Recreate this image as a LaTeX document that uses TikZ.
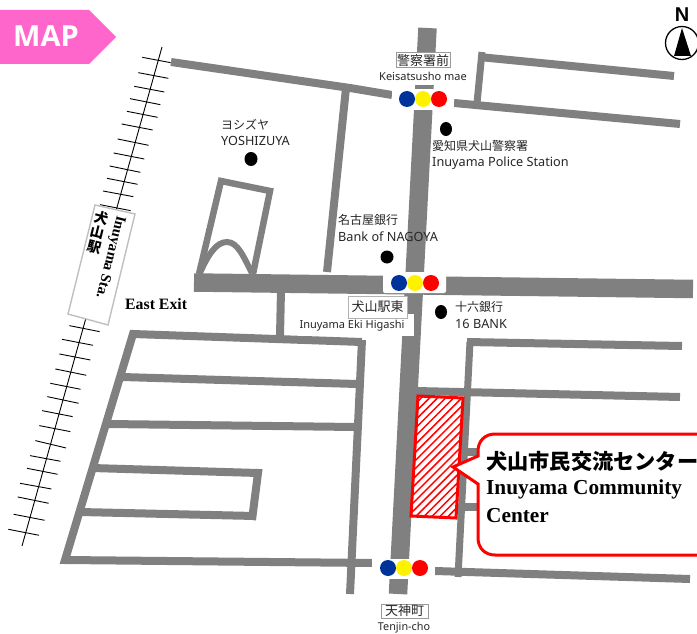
\documentclass[tikz,border=0pt]{standalone}
\usepackage{fontspec}
\usetikzlibrary{patterns.meta}
\setmainfont{Liberation Serif}
\setsansfont{Noto Sans}
\newfontfamily\cjk{Noto Sans CJK JP}
\newfontfamily\tagsans{Open Sans}
\newfontfamily\nsans{Liberation Sans}
\definecolor{road}{HTML}{808080}
\definecolor{pinktag}{HTML}{FF66CC}
\definecolor{sigblue}{HTML}{003399}
\newcommand{\fsz}[1]{\fontsize{#1}{#1}\selectfont}
\tikzset{
  roadline/.style={draw=road,line width=8pt},
  wideroad/.style={draw=road,line width=18.5pt},
  gap/.style={fill=white,draw=none},
  lab/.style={anchor=west,inner sep=0pt,text=black!85,font=\sffamily\fsz{12.7}},
  jlab/.style={anchor=west,inner sep=0pt,text=black!85,font=\cjk\fsz{12}},
  clab/.style={anchor=center,inner sep=0pt,text=black!85,font=\sffamily\fsz{11}},
  stn/.style={anchor=center,draw=black!40,fill=white,line width=1pt,inner sep=0pt,font=\cjk\fsz{13},text=black!85},
  dotmark/.style={fill=black,draw=none},
  tie/.style={draw=black,line width=0.9pt},
  bigb/.style={anchor=west,inner sep=0pt,font=\bfseries\fsz{21.3}}
}
\begin{document}
\begin{tikzpicture}[x=1pt,y=-1pt]
\clip (0,0) rectangle (697,634);
% railway
\draw[tie] (162,47) -- (22,546);
\begin{scope}[x=0.3333pt,y=-0.3333pt]
\foreach \a/\b/\c/\d in {427/172/512/188,415/218/505/235,403/259/493/276,390/296/481/314,381/334/473/352,365/372/458/390,353/417/446/436,341/459/433/477,329/498/421/517,321/535/413/553,309/573/400/590,300/614/392/632}
  \draw[tie] (\a,\b) -- (\c,\d);
\foreach \a/\b/\c/\d in {208/35/299/53,186/76/279/94,178/120/271/138,166/165/259/184,151/208/242/226,142/248/236/268,126/290/218/308,118/335/211/353,106/380/198/402,90/425/182/442,81/463/173/481,60/508/154/525,53/549/146/568,41/601/134/619,25/646/117/664}
  \draw[tie] (\a,\b+942) -- (\c,\d+942);
\end{scope}
% station
\draw[draw=black!25,fill=white,line width=1.4pt] (95,205) -- (135,214) -- (108,325) -- (68,314) -- cycle;
\node[inner sep=0pt,rotate=-14,font=\cjk\bfseries\fsz{14}] (s1) at (102,218) {犬};
\node[inner sep=0pt,rotate=-14,font=\cjk\bfseries\fsz{14}] (s2) at (98,232) {山};
\node[inner sep=0pt,rotate=-14,font=\cjk\bfseries\fsz{14}] (s3) at (95,247) {駅};
\node[inner sep=0pt,rotate=-104,font=\bfseries\fsz{14.8}] (s4) at (110,257) {Inuyama Sta.};
\node[anchor=west,inner sep=0pt,font=\bfseries\fsz{15.8}] (ee) at (125,304) {East Exit};
% roads
\draw[roadline] (171,62) -- (350,88) -- (392,95);
\draw[roadline] (454,103) -- (680,124);
\draw[roadline] (346,88) -- (327,272);
\draw[roadline,line width=7pt] (482,52) -- (477,103);
\draw[roadline] (479,57) -- (674,76);
\draw[draw=road,line width=6.5pt,line join=miter] (199,274) -- (221,181) -- (270,191) -- (253,274);
\draw[draw=road,line width=6pt] (200,273) .. controls (208,255) and (216,242) .. (227,242) .. controls (238,242) and (244,258) .. (252,273);
\draw[roadline] (281,290) -- (280,336);
\draw[roadline,line join=miter] (362,342) -- (133,334) -- (65,560) -- (372,563);
\draw[roadline] (122,377) -- (357,384);
\draw[roadline] (108,424) -- (355,427);
\draw[roadline,line join=miter] (92,468) -- (258,473) -- (252,520);
\draw[roadline] (80,512) -- (255,516);
\draw[roadline] (362,340) -- (350,594);
\draw[roadline] (435,571) -- (690,579);
\draw[roadline,line width=7pt] (470,342) -- (458,577);
\draw[roadline] (467,342) -- (682,346);
\draw[roadline] (416,391) -- (680,397);
\draw[roadline] (460,452) -- (500,452);
\draw[roadline] (460,507) -- (500,507);
\draw[wideroad] (427.5,28) -- (398,594);
\draw[wideroad] (194,282.5) -- (693,289);
% white gaps
\fill[gap] (384,68) rectangle (462,85);
\fill[gap] (392,89) rectangle (454,110);
\fill[gap,rounded corners=2pt] (383,272) rectangle (446,293);
\fill[gap] (372,559) rectangle (435,579);
\fill[gap] (298,314) rectangle (414,336);
% centre
\fill[white] (418,396) -- (463,398) -- (456,518) -- (411,516) -- cycle;
\fill[pattern={Lines[angle=45,distance=5.7pt,line width=1.5pt]},pattern color=red] (418,396) -- (463,398) -- (456,518) -- (411,516) -- cycle;
\draw[red,line width=3pt] (418,396) -- (463,398) -- (456,518) -- (411,516) -- cycle;
% callout
\draw[red,line width=3pt,fill=white,rounded corners=0pt] (705,434) -- (495,434) .. controls (485,434) and (478,441) .. (478,451) -- (478,456) -- (453,467) -- (478,484) -- (478,538) .. controls (478,548) and (485,555) .. (495,555) -- (705,555);
\node[anchor=west,inner sep=0pt,font=\cjk\bfseries\fsz{21.2}] (c1) at (486,461) {犬山市民交流センター};
\node[bigb] (c2) at (486,489) {Inuyama Community};
\node[bigb] (c3) at (486,516) {Center};
% signals
\foreach \x/\y/\n in {407/99/a,399/283/b,388/568/c}{
  \fill[sigblue] (\x,\y) circle (8);
  \fill[yellow] (\x+16,\y) circle (8);
  \fill[red] (\x+32,\y) circle (8);
}
% stations
\node[stn,minimum width=54pt,minimum height=15pt] (k1) at (423,60.5) {警察署前};
\node[clab] (k2) at (423,76) {Keisatsusho mae};
\node[stn,minimum width=59pt,minimum height=22pt,draw=black!30] (h1) at (377.5,307) {犬山駅東};
\node[clab] (h2) at (352,326) {Inuyama Eki Higashi};
\node[stn,minimum width=47pt,minimum height=14pt] (t1) at (404.5,611) {天神町};
\node[clab,font=\sffamily\fsz{10.8}] (t2) at (404,628) {Tenjin-cho};
% landmarks
\fill[dotmark] (251,159) ellipse (6.5 and 7);
\fill[dotmark] (387,257) ellipse (6.5 and 6.5);
\fill[dotmark] (446,129) ellipse (6 and 7);
\fill[dotmark] (441,312) ellipse (6 and 7);
\node[jlab] (l1) at (221,125) {ヨシズヤ};
\node[lab] (l2) at (221,141) {YOSHIZUYA};
\node[jlab] (l3) at (338,220) {名古屋銀行};
\node[lab] (l4) at (338,237) {Bank of NAGOYA};
\node[jlab] (l5) at (432,146) {愛知県犬山警察署};
\node[lab] (l6) at (432,163) {Inuyama Police Station};
\node[jlab] (l7) at (455,307) {十六銀行};
\node[lab] (l8) at (455,324) {16 BANK};
% MAP tag
\fill[pinktag] (0,10) -- (89,10) -- (116,37) -- (89,64) -- (0,64) -- cycle;
\node[anchor=west,inner sep=0pt,text=white,font=\tagsans\bfseries\fsz{29}] (map) at (13,36) {MAP};
% north
\draw[black,line width=1.3pt] (682,43) circle (16.5);
\fill[black] (682,28) -- (691,56) -- (674,56) -- cycle;
\node[inner sep=0pt,font=\nsans\bfseries\fsz{20}] (north) at (682,15) {N};
\end{tikzpicture}
\end{document}
